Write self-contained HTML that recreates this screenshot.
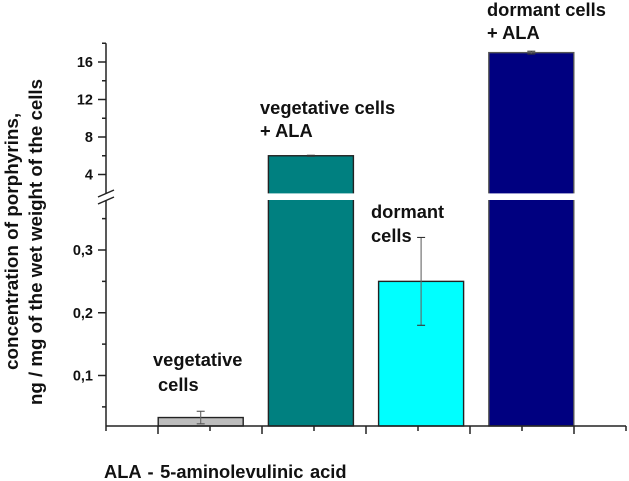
<!DOCTYPE html>
<html lang="en">
<head>
<meta charset="utf-8">
<title>Porphyrin concentration chart</title>
<style>
html,body{margin:0;padding:0;background:#fff;width:629px;height:481px;overflow:hidden}
svg{display:block}
text{font-family:"Liberation Sans",Arial,sans-serif;font-weight:bold;fill:#111}
.lbl{font-size:18.3px}
.foot{font-size:18.3px;word-spacing:1.5px}
.tick{font-size:14.5px}
.ttl{font-size:18.9px}
.ttl2{font-size:18.7px}
</style>
</head>
<body>
<svg id="chart" width="629" height="481" viewBox="0 0 629 481" xmlns="http://www.w3.org/2000/svg">
  <g id="bars"></g>
  <g id="errs"></g>
  <g id="axes"></g>
  <g id="ticklabels"></g>

  <text class="ttl" transform="translate(18,370) rotate(-90)">concentration of porphyrins,</text>
  <text class="ttl2" transform="translate(42,405) rotate(-90)">ng / mg of the wet weight of the cells</text>

  <text class="lbl" x="153" y="366">vegetative</text>
  <text class="lbl" x="158" y="391">cells</text>
  <text class="lbl" x="260" y="114">vegetative cells</text>
  <text class="lbl" x="260" y="137">+ ALA</text>
  <text class="lbl" x="371" y="218">dormant</text>
  <text class="lbl" x="371" y="242">cells</text>
  <text class="lbl" x="487" y="16">dormant cells</text>
  <text class="lbl" x="487" y="39">+ ALA</text>
  <text class="foot" x="104" y="478">ALA - 5-aminolevulinic acid</text>
</svg>
<script>
const categories = ["vegetative", "vegetative-ala", "dormant", "dormant-ala"];
const values = [0.033, 6, 0.25, 17];
const errLow = [0.023, 5.95, 0.18, 16.85];
const errHigh = [0.043, 6.05, 0.32, 17.15];
const barColors = ["#bdbdbd", "#008080", "#00ffff", "#000080"];
const lowerTickLabels = ["0,1", "0,2", "0,3"];
const lowerTicks = [0.1, 0.2, 0.3];
const lowerMinorTicks = [0.05, 0.15, 0.25, 0.35];
const upperTicks = [4, 8, 12, 16];
const upperMinorTicks = [6, 10, 14, 18];

const NS = "http://www.w3.org/2000/svg";
const AX = 106, AX_END = 626, BASE = 426, BREAK_LOW = 0.38;
function y(v) {
  if (v <= BREAK_LOW) return 375.5 - (v - 0.1) * 627.5;
  return 174.5 - (v - 4) * 9.375;
}
function barCenter(i) { return 200.7 + i * 110.2; }
const BAR_W = 85;
function mk(parent, tag, attrs) {
  const el = document.createElementNS(NS, tag);
  for (const k in attrs) el.setAttribute(k, attrs[k]);
  parent.appendChild(el);
  return el;
}
const barsG = document.getElementById("bars");
const errsG = document.getElementById("errs");
const axesG = document.getElementById("axes");
const labG = document.getElementById("ticklabels");

categories.forEach(function (c, i) {
  const cx = barCenter(i), top = y(values[i]);
  const bar = mk(barsG, "rect", {x: cx - BAR_W / 2, y: top, width: BAR_W, height: BASE - top, fill: barColors[i], stroke: i === 3 ? "#555" : "#222", "stroke-width": 1.4});
  
  
  if (values[i] > BREAK_LOW) {
    const gap = mk(barsG, "rect", {x: cx - BAR_W / 2 - 2, y: 193.4, width: BAR_W + 4, height: 6.6, fill: "#fff"});
    
    
  }
  const g = mk(errsG, "g", {stroke: i > 0 ? "#333" : "#555", "stroke-width": 1.1, fill: "none"});
  
  
  mk(g, "line", {x1: cx, x2: cx, y1: y(errLow[i]), y2: y(errHigh[i]), stroke: "#666"});
  mk(g, "line", {x1: cx - 4, x2: cx + 4, y1: y(errLow[i]), y2: y(errLow[i])});
  mk(g, "line", {x1: cx - 4, x2: cx + 4, y1: y(errHigh[i]), y2: y(errHigh[i])});
});

const axisStyle = {stroke: "#222", "stroke-width": 1.5, fill: "none"};
function line(x1, y1, x2, y2, name) {
  const l = mk(axesG, "line", Object.assign({x1: x1, y1: y1, x2: x2, y2: y2}, axisStyle));
  
  
}
line(AX, BASE, AX_END, BASE, "x-axis-line");
line(AX, y(18), AX, 194, "y-axis-upper-line");
line(AX, 200, AX, BASE, "y-axis-lower-line");
line(98, 197, 114, 190, "axis-break-mark-upper");
line(98, 204, 114, 197, "axis-break-mark-lower");

for (let k = 0; k <= 10; k++) {
  const tx = AX + k * 52;
  line(tx, BASE, tx, BASE + (k % 2 ? 8 : 5), "x-axis-tick");
}
function yTick(v, len, name) { line(AX - len, y(v), AX, y(v), name); }
upperMinorTicks.forEach(function (v) { yTick(v, 4, "y-minor-tick"); });
lowerMinorTicks.forEach(function (v) { yTick(v, 4, "y-minor-tick"); });
function yLabel(v, s) {
  yTick(v, 8, "y-major-tick");
  const t = mk(labG, "text", {x: 93, y: y(v) + 5, "text-anchor": "end", "class": "tick"});
  
  
  t.textContent = s;
}
upperTicks.forEach(function (v) { yLabel(v, String(v)); });
lowerTicks.forEach(function (v, i) { yLabel(v, lowerTickLabels[i]); });
</script>
</body>
</html>
